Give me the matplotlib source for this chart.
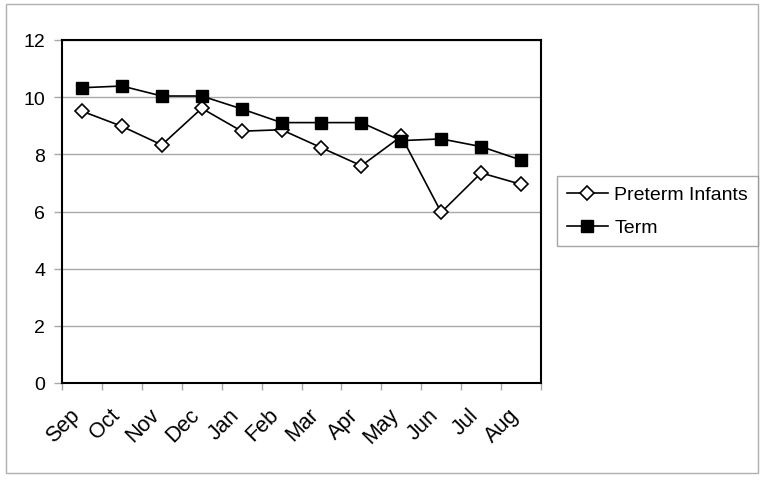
import matplotlib
matplotlib.use("Agg")
import matplotlib.pyplot as plt
from matplotlib.patches import Rectangle
from matplotlib.transforms import ScaledTranslation

months = ["Sep", "Oct", "Nov", "Dec", "Jan", "Feb", "Mar", "Apr", "May", "Jun", "Jul", "Aug"]
preterm = [9.51, 8.98, 8.33, 9.61, 8.81, 8.86, 8.23, 7.60, 8.63, 5.97, 7.35, 6.95]
term = [10.33, 10.39, 10.04, 10.04, 9.59, 9.11, 9.11, 9.11, 8.48, 8.54, 8.27, 7.80]
yticks = [0, 2, 4, 6, 8, 10, 12]

plt.rcParams['font.family'] = ['Liberation Sans', 'DejaVu Sans']

fig = plt.figure(figsize=(7.65, 4.81), dpi=100)
ax = fig.add_axes([62/765, 1 - 384/481, (541 - 62)/765, (384 - 41)/481])

x = list(range(len(months)))
l1, = ax.plot(x, preterm, color='black', lw=1.2, marker='D', markersize=7,
              markerfacecolor='white', markeredgecolor='black', markeredgewidth=1.2,
              label='Preterm Infants')
l2, = ax.plot(x, term, color='black', lw=1.2, marker='s', markersize=8,
              markerfacecolor='black', markeredgecolor='black',
              label='Term')

ax.set_xlim(-0.5, len(months) - 0.5)
ax.set_ylim(0, 12)
ax.set_yticks(yticks)
ax.set_yticklabels([str(v) for v in yticks], fontsize=14)
ax.yaxis.grid(True, color='#a8a8a8', lw=1)
ax.set_axisbelow(True)
ax.tick_params(axis='y', length=6, color='#a8a8a8', width=1, pad=6)

ax.set_xticks([i - 0.5 for i in range(len(months) + 1)], minor=False)
ax.set_xticklabels([])
ax.set_xticks(x, minor=True)
ax.set_xticklabels(months, minor=True, rotation=45, ha='right', va='top',
                   rotation_mode='anchor', fontsize=15.5)
ax.tick_params(axis='x', which='major', length=5, color='#a8a8a8', width=1, direction='out')
ax.tick_params(axis='x', which='minor', length=0, pad=10)
shift = ScaledTranslation(-13/100, -7/100, fig.dpi_scale_trans)
for lab in ax.get_xticklabels(minor=True):
    lab.set_transform(lab.get_transform() + shift)

for s in ax.spines.values():
    s.set_color('black')
    s.set_linewidth(1.5)

leg = fig.legend(handles=[l1, l2], loc='upper left',
                 bbox_to_anchor=(557/765, 1 - 177/481), fontsize=14,
                 frameon=True, fancybox=False, handlelength=2.1,
                 borderpad=0.5, labelspacing=0.8, handletextpad=0.35,
                 borderaxespad=0)
leg.get_frame().set_edgecolor('#909090')
leg.get_frame().set_linewidth(1)

fig.patches.append(Rectangle((6/765, 1 - 474/481), (758 - 6)/765, (474 - 5)/481,
                             transform=fig.transFigure, fill=False,
                             edgecolor='#b0b0b0', lw=1))

fig.savefig('out.png', dpi=100)
